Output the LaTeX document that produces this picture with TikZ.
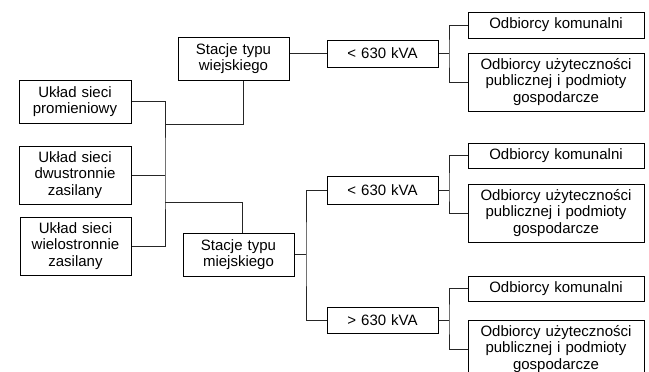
\documentclass[tikz,border=0pt]{standalone}
\usepackage{fontspec}
\setmainfont{Liberation Sans}
\begin{document}
\begin{tikzpicture}[x=1pt, y=-1pt,
    box/.style={draw, line width=1pt, inner sep=0pt, align=center, text width=#1, minimum width=#1},
    box/.default=111pt,
    conn/.style={line width=1pt, black!85}]
    \fontsize{15}{16.3}\selectfont
    \useasboundingbox (0,0) rectangle (649,372);
    % uklady sieci
    \node[box=112pt, minimum height=43pt] (uklad1) at (75,101.5) {Układ sieci\\promieniowy};
    \node[box=112pt, minimum height=58pt] (uklad2) at (75,175) {Układ sieci\\dwustronnie\\zasilany};
    \node[box, minimum height=58pt] (uklad3) at (75.5,246) {Układ sieci\\wielostronnie\\zasilany};
    % stacje
    \node[box, minimum height=43pt] (wiej) at (233.5,58.5) {Stacje typu\\wiejskiego};
    \node[box, minimum height=43pt] (miej) at (238.5,254.5) {Stacje typu\\miejskiego};
    % moce
    \node[box, minimum height=27pt] (kva1) at (382.5,53.5) {< 630 kVA};
    \node[box, minimum height=28pt] (kva2) at (382.5,190) {< 630 kVA};
    \node[box, minimum height=26pt] (kva3) at (382.5,320) {> 630 kVA};
    % odbiorcy
    \node[box=176pt, minimum height=26pt] (kom1) at (556,25) {Odbiorcy komunalni};
    \node[box=176pt, minimum height=58pt] (uzy1) at (556,82) {Odbiorcy użyteczności\\publicznej i podmioty\\gospodarcze};
    \node[box=176pt, minimum height=25pt] (kom2) at (556,155.5) {Odbiorcy komunalni};
    \node[box=176pt, minimum height=58pt] (uzy2) at (556,213) {Odbiorcy użyteczności\\publicznej i podmioty\\gospodarcze};
    \node[box=176pt, minimum height=25pt] (kom3) at (556,288.5) {Odbiorcy komunalni};
    \node[box=176pt, minimum height=58pt] (uzy3) at (556,349) {Odbiorcy użyteczności\\publicznej i podmioty\\gospodarcze};
    % szyna
    \coordinate (bus) at (165,173);
    \coordinate (wj) at (165,124);
    \coordinate (mj) at (165,202);
    \draw[conn] (uklad1.east) -| (bus) |- (uklad3.east);
    \draw[conn] (uklad2.east) -- (uklad2.east -| bus);
    \draw[conn] (wj) -| ([xshift=9.5pt]wiej.south);
    \draw[conn] (mj) -| ([xshift=3.5pt]miej.north);
    \draw[conn] (kva1.west) -- (kva1.west -| wiej.east);
    % rozgalezienia
    \coordinate (rm) at (306,253);
    \draw[conn] (miej.east) -- (miej.east -| rm);
    \draw[conn] (kva2.west) -| (rm) |- (kva3.west);
    \coordinate (r1) at (449,53.5);
    \coordinate (r2) at (449,190);
    \coordinate (r3) at (449,320);
    \draw[conn] (kom1.west) -| (r1) |- (uzy1.west);
    \draw[conn] (kva1.east) -- (r1);
    \draw[conn] (kom2.west) -| (r2) |- (uzy2.west);
    \draw[conn] (kva2.east) -- (r2);
    \draw[conn] (kom3.west) -| (r3) |- (uzy3.west);
    \draw[conn] (kva3.east) -- (r3);
\end{tikzpicture}
\end{document}
